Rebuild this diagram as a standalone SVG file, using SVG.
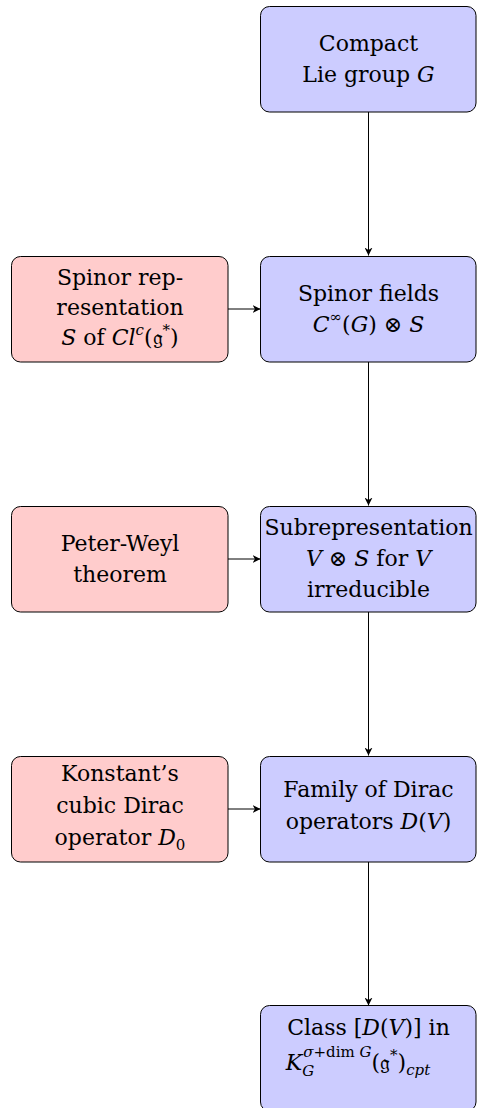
<svg xmlns="http://www.w3.org/2000/svg" width="478" height="1108" viewBox="0 0 478 1108" font-family="'DejaVu Serif', serif">
<style>
.blue{fill:#ccccff;stroke:#000;stroke-width:1}
.pink{fill:#ffcccc;stroke:#000;stroke-width:1}
text{font-family:"DejaVu Serif",serif;font-size:22px;fill:#000;text-anchor:middle}
.i{font-style:italic}
.s{font-size:15px}
.e{stroke:#000;stroke-width:1;fill:none;marker-end:url(#ah)}
</style>
<defs>
<marker id="ah" viewBox="0 0 10 10" refX="10" refY="5" markerWidth="8" markerHeight="8" markerUnits="userSpaceOnUse" orient="auto">
<path d="M0,0 L10,5 L0,10 L3,5 Z" fill="#000"/>
</marker>
</defs>
<g id="connectors">
<line class="e" x1="368.5" y1="112" x2="368.5" y2="255.5"/>
<line class="e" x1="368.5" y1="362" x2="368.5" y2="505.5"/>
<line class="e" x1="368.5" y1="612" x2="368.5" y2="755.5"/>
<line class="e" x1="368.5" y1="862" x2="368.5" y2="1005.5"/>
<line class="e" x1="228" y1="309" x2="260.5" y2="309"/>
<line class="e" x1="228" y1="559" x2="260.5" y2="559"/>
<line class="e" x1="228" y1="809" x2="260.5" y2="809"/>
</g>
<g id="n1">
<rect class="blue" x="260.5" y="6.5" width="215.5" height="105.5" rx="9"/>
<text x="368.5" y="51">Compact</text>
<text x="368.5" y="82">Lie group <tspan class="i">G</tspan></text>
</g>
<g id="n2">
<rect class="blue" x="260.5" y="256.5" width="215.5" height="105.5" rx="9"/>
<text x="368.5" y="301">Spinor fields</text>
<text x="368.5" y="332"><tspan class="i">C</tspan><tspan class="s" dy="-10">∞</tspan><tspan dy="10">(</tspan><tspan class="i">G</tspan>) ⊗ <tspan class="i">S</tspan></text>
</g>
<g id="p1">
<rect class="pink" x="11.5" y="256.5" width="216.5" height="105.5" rx="9"/>
<text x="120" y="285">Spinor rep-</text>
<text x="120" y="315">resentation</text>
<text x="120" y="345"><tspan class="i">S</tspan> of <tspan class="i">Cl</tspan><tspan class="s i" dy="-10">c</tspan><tspan dy="10">(𝔤</tspan><tspan class="s" dy="-10">*</tspan><tspan dy="10">)</tspan></text>
</g>
<g id="n3">
<rect class="blue" x="260.5" y="506.5" width="215.5" height="105.5" rx="9"/>
<text x="368.5" y="535">Subrepresentation</text>
<text x="368.5" y="566"><tspan class="i">V</tspan> ⊗ <tspan class="i">S</tspan> for <tspan class="i">V</tspan></text>
<text x="368.5" y="597">irreducible</text>
</g>
<g id="p2">
<rect class="pink" x="11.5" y="506.5" width="216.5" height="105.5" rx="9"/>
<text x="120" y="551">Peter-Weyl</text>
<text x="120" y="582">theorem</text>
</g>
<g id="n4">
<rect class="blue" x="260.5" y="756.5" width="215.5" height="105.5" rx="9"/>
<text x="368.5" y="797">Family of Dirac</text>
<text x="368.5" y="829">operators <tspan class="i">D</tspan>(<tspan class="i">V</tspan>)</text>
</g>
<g id="p3">
<rect class="pink" x="11.5" y="756.5" width="216.5" height="105.5" rx="9"/>
<text x="120" y="781">Konstant’s</text>
<text x="120" y="813">cubic Dirac</text>
<text x="120" y="845">operator <tspan class="i">D</tspan><tspan class="s" dy="5">0</tspan></text>
</g>
<g id="n5">
<rect class="blue" x="260.5" y="1005.5" width="215.5" height="105.5" rx="9"/>
<text x="368.5" y="1035">Class [<tspan class="i">D</tspan>(<tspan class="i">V</tspan>)] in</text>
<text x="358" y="1070"><tspan class="i">K</tspan><tspan class="s i" dy="6">G</tspan><tspan class="s i" dx="-11" dy="-19">σ</tspan><tspan class="s">+dim </tspan><tspan class="s i">G</tspan><tspan dy="13">(𝔤</tspan><tspan class="s" dy="-10">*</tspan><tspan dy="10">)</tspan><tspan class="s i" dy="5">cpt</tspan></text>
</g>
</svg>
